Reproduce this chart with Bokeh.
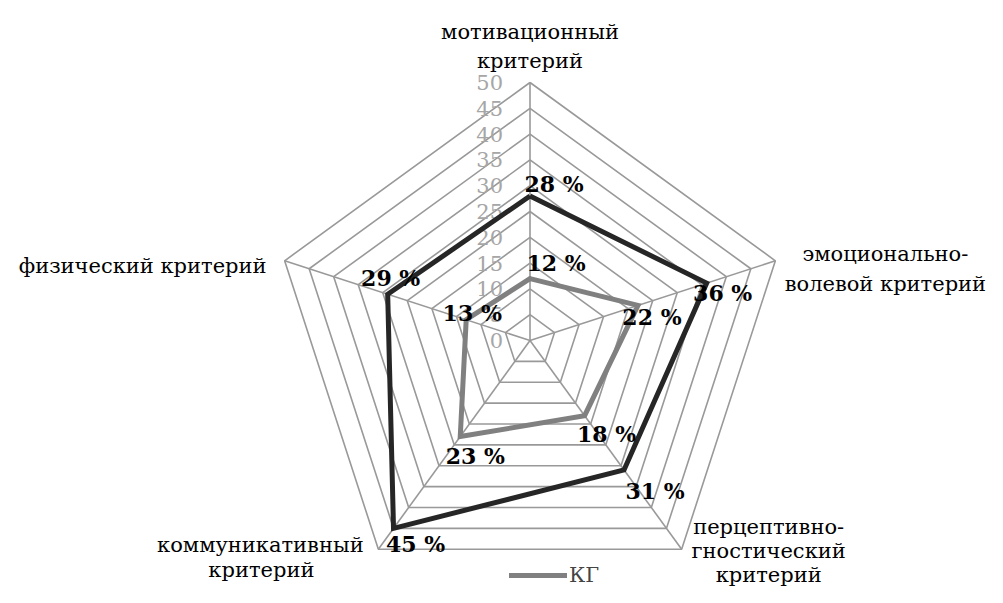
import math
from bokeh.plotting import figure
from bokeh.models import Range1d, Legend, LegendItem
from bokeh.core.properties import value
from bokeh.embed import file_html
from bokeh.resources import INLINE

# ---- data ----
categories = ["мотивационный критерий", "эмоционально-волевой критерий",
              "перцептивно-гностический критерий", "коммуникативный критерий",
              "физический критерий"]
eg_values = [28, 36, 31, 45, 29]   # black series
kg_values = [12, 22, 18, 23, 13]   # gray series (КГ)
tick_values = [0, 5, 10, 15, 20, 25, 30, 35, 40, 45, 50]
max_value = 50
legend_name = "КГ"

# category label lines: (axis index, text)
cat_lines = [(0, "мотивационный"), (0, "критерий"),
             (1, "эмоционально-"), (1, "волевой критерий"),
             (2, "перцептивно-"), (2, "гностический"), (2, "критерий"),
             (3, "коммуникативный"), (3, "критерий"),
             (4, "физический критерий")]
# ---- styling / placement (screen pixels) ----
cat_dx = [0, 0, 110, 110, 87, 87, 87, -118, -117, -142]
cat_dy = [-51, -22, -7, 23, -22, 2, 26, -4, 21, 5]
eg_dx = [24, 16, 31, 22, 3]
eg_dy = [-12, 10, 21, 16, -16]
kg_dx = [26, 14, 22, 15, 6]
kg_dy = [-16, 12, 18, 19, -7]

FONT_NAME = "DejaVu Serif"
FONT = value(FONT_NAME)
n = len(categories)
angles = [math.radians(90 - 72 * i) for i in range(n)]

def pt(v, i):
    return v * math.cos(angles[i]), v * math.sin(angles[i])

scale = 5.16  # px per unit
W, H = 987, 587
cx_px, cy_px = 529.5, 340.0
x0 = (0 - cx_px) / scale
x1 = (W - cx_px) / scale
y1 = cy_px / scale
y0 = (cy_px - H) / scale

p = figure(width=W, height=H, output_backend="svg", toolbar_location=None,
           x_range=Range1d(x0, x1), y_range=Range1d(y0, y1),
           min_border=0, outline_line_color=None, background_fill_color="white",
           border_fill_color="white")
p.axis.visible = False
p.grid.visible = False

# grid rings
ring_xs, ring_ys = [], []
for t in tick_values[1:]:
    xs = [pt(t, i)[0] for i in range(n)] + [pt(t, 0)[0]]
    ys = [pt(t, i)[1] for i in range(n)] + [pt(t, 0)[1]]
    ring_xs.append(xs)
    ring_ys.append(ys)
for i in range(n):
    ring_xs.append([0, pt(max_value, i)[0]])
    ring_ys.append([0, pt(max_value, i)[1]])
p.multi_line(ring_xs, ring_ys, line_color="#999999", line_width=1.6)

# tick labels
p.text(x=[0] * len(tick_values), y=tick_values, text=[str(t) for t in tick_values],
       x_offset=-27, text_align="right", text_baseline="middle",
       text_font=FONT, text_font_size="21px", text_color="#a6a6a6")

# series
def closed(vals):
    xs = [pt(v, i)[0] for i, v in enumerate(vals)]
    ys = [pt(v, i)[1] for i, v in enumerate(vals)]
    return xs + xs[:1], ys + ys[:1]

ex, ey = closed(eg_values)
kx, ky = closed(kg_values)
r_kg = p.line(kx, ky, line_color="#808080", line_width=5, line_join="miter", line_cap="round")
r_eg = p.line(ex, ey, line_color="#262626", line_width=5, line_join="miter")

# data labels
for vals, dx, dy in ((kg_values, kg_dx, kg_dy), (eg_values, eg_dx, eg_dy)):
    p.text(x=[pt(v, i)[0] for i, v in enumerate(vals)],
           y=[pt(v, i)[1] for i, v in enumerate(vals)],
           text=[f"{v} %" for v in vals], x_offset=dx, y_offset=dy,
           text_align="center", text_baseline="middle",
           text_font=FONT, text_font_size="22px", text_font_style="bold",
           text_color="black")

# category labels
p.text(x=[pt(max_value, a)[0] for a, _ in cat_lines],
       y=[pt(max_value, a)[1] for a, _ in cat_lines],
       text=[t for _, t in cat_lines], x_offset=cat_dx, y_offset=cat_dy,
       text_align="center", text_baseline="alphabetic",
       text_font=FONT, text_font_size="21px", text_color="black")

legend = Legend(items=[LegendItem(label=legend_name, renderers=[r_kg])],
                location=(509, 0), orientation="horizontal",
                label_text_font=FONT_NAME, label_text_font_size="21px",
                glyph_width=58, glyph_height=20, padding=0, margin=0,
                label_standoff=2, border_line_color=None,
                background_fill_alpha=0)
p.add_layout(legend, "center")

open("out.html", "w").write(file_html(p, INLINE))
